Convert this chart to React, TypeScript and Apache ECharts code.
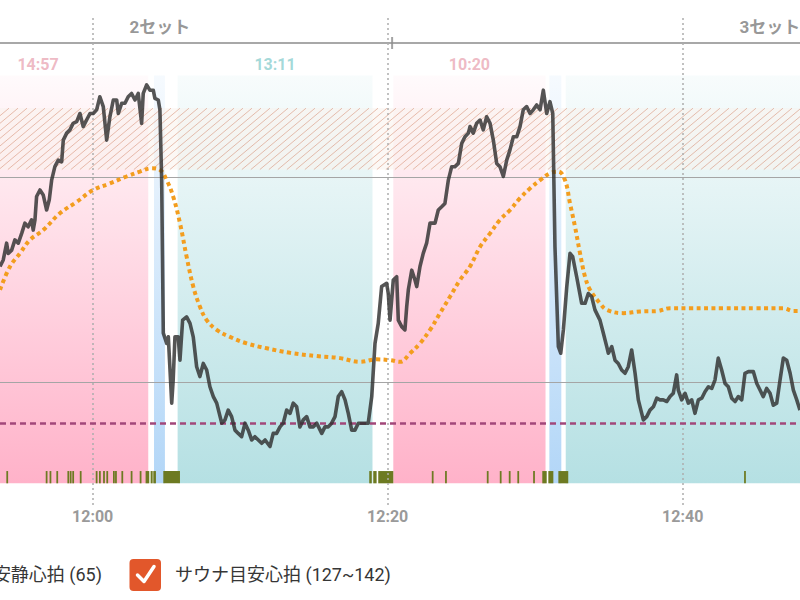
import React, { useEffect, useRef } from "react";
import * as echarts from "echarts";

// time in minutes relative to 12:00
const X_MIN = -6.28;
const X_MAX = 47.95;
const Y_MIN = 45;
const Y_MAX = 155;
const BAND_BOTTOM = 50.3;
const BAND_TOP = 150;
const EVENT_TOP = 53.3;
const RESTING_HR = 65;
const SAUNA_TARGET = [127, 142];
const GRID_VALUES = [75, 125];
const TICK_VALUES = [0, 20, 40];
const TICK_LABELS = ["12:00", "12:20", "12:40"];

const heartRate: [number, number][] = [
  [-6.28,103.3],[-6.06,104.9],[-5.83,109.0],[-5.72,106.5],[-5.49,107.3],[-5.27,109.8],[-5.04,109.0],[-4.81,111.4],[-4.59,113.9],[-4.37,113.0],[-4.14,114.7],[-4.03,112.2],[-3.91,114.7],[-3.80,120.4],[-3.57,122.0],[-3.35,120.8],[-3.12,117.1],[-2.94,119.6],[-2.78,124.4],[-2.56,127.7],[-2.33,129.3],[-2.10,128.9],[-1.99,134.2],[-1.76,135.9],[-1.54,136.7],[-1.32,138.3],[-1.08,138.7],[-0.86,140.7],[-0.64,137.5],[-0.41,139.1],[-0.18,140.7],[0.04,140.7],[0.27,141.6],[0.49,144.8],[0.72,142.4],[0.95,134.2],[1.17,139.9],[1.40,144.0],[1.63,144.0],[1.74,140.7],[1.97,143.2],[2.19,143.2],[2.41,144.8],[2.64,145.6],[2.87,144.0],[3.09,145.6],[3.32,138.3],[3.43,145.6],[3.66,147.7],[3.88,146.4],[4.11,146.4],[4.22,144.4],[4.45,144.0],[4.56,141.6],[4.68,124.4],[4.79,87.0],[5.02,84.5],[5.13,86.1],[5.36,69.9],[5.46,75.6],[5.58,86.1],[5.80,86.1],[5.92,80.4],[6.10,90.2],[6.37,91.0],[6.60,89.4],[6.82,86.1],[7.05,78.8],[7.27,76.4],[7.50,79.6],[7.73,78.0],[7.95,73.9],[8.18,71.5],[8.41,69.9],[8.75,65.0],[8.97,65.8],[9.19,68.2],[9.42,66.6],[9.65,63.3],[9.87,62.5],[10.10,61.7],[10.33,65.0],[10.55,63.3],[10.78,60.9],[11.00,61.7],[11.23,60.9],[11.46,60.1],[11.69,60.9],[12.02,59.3],[12.24,62.5],[12.47,62.5],[12.70,64.1],[12.92,65.0],[13.15,68.2],[13.38,67.4],[13.60,69.9],[13.83,69.0],[14.05,64.1],[14.28,65.8],[14.51,66.6],[14.73,64.1],[14.96,64.1],[15.19,65.0],[15.53,62.5],[15.75,64.1],[15.97,64.1],[16.20,65.0],[16.43,66.6],[16.65,71.5],[16.88,72.7],[17.11,70.7],[17.33,67.4],[17.56,63.3],[17.78,63.3],[18.01,65.0],[18.35,65.0],[18.68,65.0],[18.92,71.5],[19.14,84.5],[19.36,89.4],[19.59,98.4],[19.93,99.2],[20.04,96.7],[20.16,90.2],[20.38,100.0],[20.61,100.8],[20.72,90.2],[20.95,88.6],[21.17,87.8],[21.29,93.5],[21.40,97.6],[21.63,102.4],[21.85,100.0],[21.97,98.4],[22.19,103.3],[22.41,106.5],[22.64,109.0],[22.87,113.9],[23.21,113.9],[23.43,117.1],[23.66,117.9],[23.88,118.7],[24.11,124.4],[24.34,127.7],[24.56,127.7],[24.79,128.5],[25.02,133.4],[25.24,135.0],[25.47,135.9],[25.58,137.5],[25.80,135.9],[26.03,138.3],[26.26,139.1],[26.48,136.7],[26.71,139.9],[26.94,138.3],[27.16,134.2],[27.39,128.5],[27.61,127.7],[27.84,125.3],[28.07,129.3],[28.29,131.8],[28.52,135.0],[28.75,135.0],[28.97,137.5],[29.19,141.6],[29.42,142.4],[29.65,140.7],[29.87,141.6],[30.10,142.8],[30.33,141.6],[30.55,146.4],[30.78,140.7],[31.00,143.6],[31.19,140.7],[31.34,108.1],[31.57,83.7],[31.73,82.1],[31.91,87.8],[32.14,98.4],[32.36,106.5],[32.54,105.7],[32.81,100.8],[33.15,94.3],[33.38,94.3],[33.60,96.7],[33.83,95.9],[34.05,92.7],[34.39,90.2],[34.62,87.0],[34.85,83.7],[34.96,82.1],[35.19,83.7],[35.41,80.4],[35.63,79.6],[35.86,78.0],[36.09,77.2],[36.31,78.8],[36.54,82.9],[36.77,77.2],[36.99,70.7],[37.33,65.8],[37.56,66.6],[37.78,68.2],[38.01,69.0],[38.24,71.1],[38.46,70.7],[38.68,70.7],[38.92,70.3],[39.14,71.5],[39.36,72.3],[39.59,76.8],[39.70,73.1],[39.93,70.7],[40.16,72.3],[40.38,69.9],[40.61,70.7],[40.83,67.4],[41.06,70.7],[41.29,71.1],[41.51,72.7],[41.74,73.9],[41.97,73.5],[42.19,75.6],[42.41,80.9],[42.64,78.0],[42.87,74.7],[43.09,73.9],[43.32,71.1],[43.55,70.3],[43.77,71.5],[44.00,70.7],[44.22,77.2],[44.45,77.6],[44.79,77.6],[45.02,74.7],[45.24,73.1],[45.46,71.5],[45.69,73.5],[45.92,72.3],[46.14,69.4],[46.37,69.9],[46.60,75.6],[46.82,80.9],[47.05,80.4],[47.28,77.2],[47.50,73.1],[47.73,70.7],[47.95,68.2]
];

const trendLine: [number, number][] = [
  [-6.28,97.6],[-5.60,103.3],[-4.93,106.5],[-4.25,109.8],[-3.35,112.2],[-2.22,116.3],[-1.08,119.1],[0.04,122.0],[1.17,123.6],[2.30,125.3],[3.21,126.5],[4.00,127.3],[4.56,126.9],[5.02,124.4],[5.46,120.4],[5.92,113.9],[6.37,105.7],[6.82,98.4],[7.27,93.5],[7.73,90.2],[8.41,87.8],[9.31,86.1],[10.44,84.5],[11.80,83.3],[13.38,82.2],[15.19,81.4],[16.77,80.9],[18.12,80.0],[19.25,80.6],[20.16,80.4],[20.84,80.0],[21.52,82.1],[22.19,84.5],[22.87,87.8],[23.55,91.9],[24.22,95.9],[24.90,100.0],[25.58,103.3],[26.26,108.1],[26.94,111.4],[27.61,114.7],[28.29,117.1],[28.97,120.0],[29.65,122.4],[30.33,124.4],[31.00,126.1],[31.57,126.5],[32.02,124.4],[32.36,118.7],[32.70,113.0],[33.04,106.5],[33.38,100.8],[33.72,97.6],[34.39,94.3],[34.85,92.7],[35.97,91.9],[37.10,92.3],[38.24,92.4],[39.14,93.1],[40.49,93.1],[42.75,93.1],[45.02,93.1],[46.82,93.1],[47.50,92.4],[47.95,92.4]
];

// phases: 0 sauna, 1 water bath, 2 rest
const phaseStart = [-11.18, 4.16, 5.76, 20.38, 30.96, 32.07];
const phaseEnd = [3.77, 4.9, 18.97, 30.7, 31.77, 70];
const phaseKind = [0, 1, 2, 0, 1, 2];
const phaseLabels = ["14:57", "", "13:11", "10:20", "", ""];

const eventMarks: [number, number][] = [
  [-5.85,-5.73],[-3.18,-3.06],[-2.92,-2.8],[-2.46,-2.34],[-1.71,-1.59],[-1.55,-1.43],[-1.38,-1.26],[-0.87,-0.75],[0.21,0.33],[0.43,0.55],[0.71,0.83],[0.93,1.05],[1.38,1.5],[1.52,1.64],[1.95,2.07],[2.58,2.7],[3.19,3.31],[3.59,3.84],[3.93,4.07],[4.11,4.29],[4.79,5.92],[18.75,18.92],[19.02,19.25],[19.36,20.38],[22.99,23.11],[23.89,24.01],[26.72,26.84],[27.6,27.72],[28.21,28.33],[28.79,28.91],[29.86,29.98],[30.48,30.78],[30.89,31.23],[31.57,32.24],[44.16,44.28]
];

const setNames = ["2セット", "3セット"];
const setLabelAt = [4.56, 45.9];
const setBoundaries = [-11.18, 20.3, 70];

const FONT = 'Roboto, "Noto Sans CJK JP", sans-serif';

const grad = (c: string, a0: number) => ({
  type: "linear", x: 0, y: 0, x2: 0, y2: 1,
  colorStops: [
    { offset: 0, color: `rgba(${c},${a0})` },
    { offset: 1, color: `rgba(${c},1)` },
  ],
});
const phaseFills = [grad("255,178,201", 0.06), grad("178,214,247", 0.12), grad("181,224,227", 0.1)];
const phaseLabelColors = ["#eaa8b5", "#b3d3f0", "#8dcfcf"];

export default function App() {
  const ref = useRef<HTMLDivElement>(null);
  useEffect(() => {
    document.body.style.margin = "0";
    const chart = echarts.init(ref.current!, undefined, { renderer: "svg" });
    const dotted = { color: "#adadad", width: 1.5, type: [2, 3] };
    const vLines = TICK_VALUES.map((v) => ({ xAxis: v, lineStyle: dotted }));
    const option: any = {
      animation: false,
      textStyle: { fontFamily: FONT },
      grid: [
        { left: 0, right: 0, top: 55, bottom: 95 },
        { left: 0, right: 0, top: 15, height: 40 },
      ],
      xAxis: [
        {
          type: "value", gridIndex: 0, min: X_MIN, max: X_MAX,
          axisLine: { show: false }, axisTick: { show: false }, splitLine: { show: false },
          axisLabel: {
            customValues: TICK_VALUES,
            formatter: (v: number) => TICK_LABELS[TICK_VALUES.indexOf(Math.round(v))] ?? "",
            color: "#9a9a9a", fontSize: 16, fontWeight: "bold", margin: 3, fontFamily: FONT,
          },
        },
        { type: "value", gridIndex: 1, min: X_MIN, max: X_MAX, show: false },
      ],
      yAxis: [
        { type: "value", gridIndex: 0, min: Y_MIN, max: Y_MAX, show: false },
        { type: "value", gridIndex: 1, min: 0, max: 40, show: false },
      ],
      series: [
        {
          type: "custom", xAxisIndex: 0, yAxisIndex: 0, z: 1, silent: true,
          data: phaseStart.map((s, i) => [s, phaseEnd[i], phaseKind[i]]),
          renderItem: (params: any, api: any) => {
            const cs = params.coordSys;
            const a = api.coord([api.value(0), BAND_TOP]);
            const b = api.coord([api.value(1), BAND_BOTTOM]);
            const x1 = Math.max(a[0], cs.x);
            const x2 = Math.min(b[0], cs.x + cs.width);
            if (x2 <= x1) return null;
            return {
              type: "rect",
              shape: { x: x1, y: a[1], width: x2 - x1, height: b[1] - a[1] },
              style: { fill: phaseFills[api.value(2)] },
            };
          },
        },
        {
          type: "custom", xAxisIndex: 0, yAxisIndex: 0, z: 2, silent: true,
          data: [[SAUNA_TARGET[0], SAUNA_TARGET[1]]],
          renderItem: (params: any, api: any) => {
            const cs = params.coordSys;
            const top = api.coord([0, api.value(1)])[1];
            const bot = api.coord([0, api.value(0)])[1];
            const L = cs.x, R = cs.x + cs.width, h = bot - top;
            const d = h / Math.tan((40 * Math.PI) / 180);
            const children: any[] = [
              { type: "rect", shape: { x: L, y: top, width: R - L, height: h }, style: { fill: "rgba(250,242,236,0.55)" } },
            ];
            for (let x0 = L - d; x0 < R; x0 += 9) {
              let sx = x0, sy = bot, ex = x0 + d, ey = top;
              if (sx < L) { const f = (L - x0) / d; sx = L; sy = bot - f * h; }
              if (ex > R) { const f = (R - x0) / d; ex = R; ey = bot - f * h; }
              children.push({
                type: "line", shape: { x1: sx, y1: sy, x2: ex, y2: ey },
                style: { stroke: "rgba(210,130,100,0.5)", lineWidth: 1 },
              });
            }
            return { type: "group", children };
          },
        },
        {
          type: "custom", xAxisIndex: 0, yAxisIndex: 0, z: 3, silent: true,
          data: eventMarks,
          renderItem: (params: any, api: any) => {
            const cs = params.coordSys;
            const a = api.coord([api.value(0), EVENT_TOP]);
            const b = api.coord([api.value(1), BAND_BOTTOM]);
            const x1 = Math.max(a[0], cs.x);
            const x2 = Math.min(b[0], cs.x + cs.width);
            if (x2 <= x1) return null;
            return {
              type: "rect",
              shape: { x: x1, y: a[1], width: x2 - x1, height: b[1] - a[1] },
              style: { fill: "#6d7a22" },
            };
          },
        },
        {
          type: "line", xAxisIndex: 0, yAxisIndex: 0, z: 3, data: [], silent: true,
          markLine: {
            silent: true, symbol: ["none", "none"], label: { show: false },
            data: [
              ...GRID_VALUES.map((v) => ({ yAxis: v, lineStyle: { color: "#a5a5a5", width: 1, type: "solid" } })),
              ...vLines,
            ],
          },
        },
        {
          type: "line", xAxisIndex: 0, yAxisIndex: 0, z: 4, data: [], silent: true,
          markLine: {
            silent: true, symbol: ["none", "none"], label: { show: false },
            data: [{ yAxis: RESTING_HR, lineStyle: { color: "#a2477a", width: 2.5, type: [6, 4] } }],
          },
        },
        {
          type: "line", xAxisIndex: 0, yAxisIndex: 0, z: 5, data: trendLine, smooth: 0.4,
          symbol: "none", silent: true,
          lineStyle: { color: "#f39d1e", width: 4, type: [4, 3.5] },
        },
        {
          type: "line", xAxisIndex: 0, yAxisIndex: 0, z: 6, data: heartRate,
          symbol: "none", silent: true,
          lineStyle: { color: "#2f2f2f", width: 3.6, opacity: 0.82, join: "round" },
        },
        {
          type: "scatter", xAxisIndex: 0, yAxisIndex: 0, z: 7, silent: true, symbolSize: 1,
          itemStyle: { color: "transparent" },
          data: phaseStart
            .map((s, i) => ({
              name: phaseLabels[i],
              value: [(s + phaseEnd[i]) / 2, 152.8],
              label: { color: phaseLabelColors[phaseKind[i]] },
            }))
            .filter((d) => d.name),
          label: { show: true, position: "inside", formatter: "{b}", fontSize: 16, fontWeight: "bold", fontFamily: FONT },
        },
        // top set timeline
        {
          type: "line", xAxisIndex: 1, yAxisIndex: 1, z: 3, silent: true, symbol: "none",
          data: setBoundaries.map((t) => [t, 12]),
          lineStyle: { color: "#8c8c8c", width: 1.5 },
          markLine: { silent: true, symbol: ["none", "none"], label: { show: false }, data: vLines },
        },
        {
          type: "scatter", xAxisIndex: 1, yAxisIndex: 1, z: 4, silent: true,
          data: setBoundaries.slice(1, -1).map((t) => [t, 12]),
          symbol: "rect", symbolSize: [2, 12], itemStyle: { color: "#8c8c8c" },
        },
        {
          type: "scatter", xAxisIndex: 1, yAxisIndex: 1, z: 4, silent: true, symbolSize: 1,
          itemStyle: { color: "transparent" },
          data: setNames.map((n, i) => ({ name: n, value: [setLabelAt[i], 28] })),
          label: { show: true, position: "inside", formatter: "{b}", fontSize: 17, fontWeight: "bold", color: "#7c7c7c", fontFamily: FONT },
        },
      ],
      graphic: [
        {
          type: "text", x: 102, y: 574, silent: true,
          style: { text: `安静心拍 (${RESTING_HR})`, fill: "#363636", fontSize: 18, fontFamily: FONT, textAlign: "right", textVerticalAlign: "middle" },
        },
        {
          type: "rect", x: 129.5, y: 559, silent: true,
          shape: { x: 0, y: 0, width: 31.5, height: 32, r: 4 },
          style: { fill: "#e2572b" },
        },
        {
          type: "polyline", silent: true,
          shape: { points: [[137.5, 575], [144, 581.5], [154, 566.5]] },
          style: { stroke: "#ffffff", lineWidth: 3.5, fill: null, lineCap: "round", lineJoin: "round" },
        },
        {
          type: "text", x: 175, y: 574, silent: true,
          style: { text: `サウナ目安心拍 (${SAUNA_TARGET[0]}~${SAUNA_TARGET[1]})`, fill: "#363636", fontSize: 18, fontFamily: FONT, textAlign: "left", textVerticalAlign: "middle" },
        },
      ],
    };
    chart.setOption(option);
    return () => chart.dispose();
  }, []);
  return <div ref={ref} style={{ position: "absolute", left: 0, top: 0, width: 800, height: 600 }} />;
}
